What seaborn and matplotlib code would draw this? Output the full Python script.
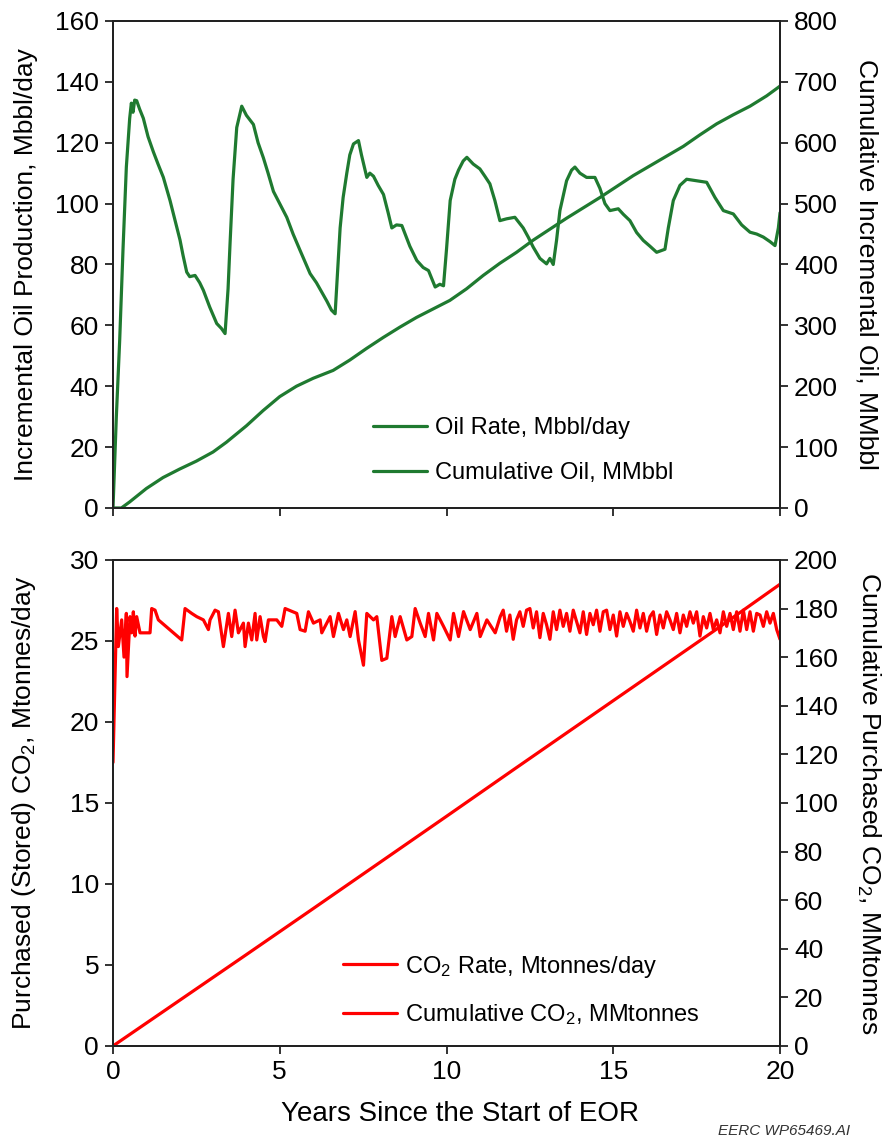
import numpy as np
import pandas as pd
import seaborn as sns
import matplotlib.pyplot as plt

# ---- data ----
oil_years = [0.0, 0.1, 0.2, 0.3, 0.4, 0.5, 0.55, 0.6, 0.65, 0.71, 0.8, 0.91, 1.05, 1.21, 1.35, 1.51,
             1.71, 1.85, 2.01, 2.1, 2.21, 2.3, 2.46, 2.6, 2.71, 2.9, 3.11, 3.25, 3.36, 3.45, 3.51, 3.6,
             3.71, 3.86, 4.0, 4.21, 4.35, 4.51, 4.65, 4.81, 5.0, 5.21, 5.4, 5.61, 5.91, 6.1, 6.41, 6.55,
             6.66, 6.72, 6.81, 6.9, 7.01, 7.1, 7.21, 7.36, 7.45, 7.61, 7.7, 7.81, 7.95, 8.11, 8.25, 8.36,
             8.5, 8.66, 8.9, 9.11, 9.3, 9.46, 9.66, 9.8, 9.91, 10.0, 10.11, 10.25, 10.36, 10.5, 10.61,
             10.8, 11.0, 11.15, 11.3, 11.45, 11.6, 11.8, 12.05, 12.3, 12.45, 12.6, 12.8, 13.0, 13.1,
             13.2, 13.3, 13.4, 13.6, 13.75, 13.85, 14.0, 14.2, 14.45, 14.6, 14.75, 14.9, 15.15, 15.3,
             15.5, 15.7, 15.9, 16.1, 16.3, 16.55, 16.65, 16.8, 17.0, 17.2, 17.5, 17.8, 18.05, 18.3,
             18.6, 18.85, 19.1, 19.3, 19.5, 19.7, 19.85, 19.95, 20.0]
oil_rate = [0, 30, 55, 85, 112, 128, 133, 130, 134, 133.8, 131, 128, 122, 117, 113, 108.6,
            101, 95, 88, 83, 77.5, 76, 76.4, 74, 71.5, 66, 60.6, 59, 57.3, 72, 87, 108,
            125, 132, 129, 126, 120, 115, 110, 104, 100, 95.5, 90, 84.6, 77, 74, 68, 65,
            63.8, 75, 92, 102, 110, 116, 119.6, 120.7, 116, 108.6, 110, 109, 106, 103, 97, 92,
            93, 92.8, 86, 81.3, 79, 78, 72.6, 73.5, 73, 85, 101, 108, 111, 114, 115.2,
            113, 111.4, 109, 106.5, 101, 94.4, 95, 95.5, 92, 89, 85.7, 82, 80.2, 82,
            80, 88, 97.7, 107.5, 111, 112, 110, 108.6, 108.6, 105, 100, 97.7, 98.3, 96.5,
            94.4, 90.5, 87.9, 86, 84, 85, 92, 101, 106, 108, 107.5, 107, 102, 97.7,
            96.6, 93, 90.6, 90, 89, 87.5, 86.2, 92, 97]

cum_oil_years = [0.0, 0.25, 0.5, 1.0, 1.5, 2.0, 2.5, 3.0, 3.4, 4.0, 4.5, 5.0, 5.5, 6.0, 6.6, 7.1,
                 7.6, 8.1, 8.6, 9.1, 9.6, 10.1, 10.6, 11.1, 11.6, 12.1, 12.6, 13.1, 13.6, 14.1,
                 14.6, 15.1, 15.6, 16.1, 16.6, 17.1, 17.6, 18.1, 18.6, 19.1, 19.6, 20.0]
cum_oil = [0, 0, 10, 32, 50, 64, 77, 92, 108, 135, 160, 183, 200, 213, 226, 243,
           262, 280, 297, 313, 327, 341, 360, 382, 402, 420, 440, 458, 476, 493,
           510, 528, 546, 562, 578, 594, 613, 631, 646, 660, 677, 693]

co2_years = [0.0, 0.11, 0.16, 0.26, 0.33, 0.40, 0.42, 0.51, 0.56, 0.61, 0.66, 0.71, 0.81, 1.11,
             1.16, 1.26, 1.36, 2.06, 2.16, 2.36, 2.51, 2.71, 2.86, 2.91, 3.06, 3.16, 3.31, 3.46,
             3.56, 3.66, 3.76, 3.91, 3.96, 4.06, 4.16, 4.26, 4.31, 4.41, 4.51, 4.56, 4.66, 4.91,
             5.06, 5.16, 5.51, 5.61, 5.76, 5.86, 6.01, 6.21, 6.26, 6.51, 6.61, 6.76, 6.91, 7.01,
             7.11, 7.26, 7.36, 7.51, 7.61, 7.81, 7.91, 8.06, 8.21, 8.36, 8.46, 8.61, 8.81, 8.96,
             9.06, 9.21, 9.36, 9.46, 9.61, 9.71, 9.91, 10.11, 10.21, 10.36, 10.51, 10.71, 10.91,
             11.01, 11.21, 11.46, 11.61,
             11.7, 11.8, 11.9, 12.0, 12.1, 12.2, 12.3, 12.4, 12.5, 12.6, 12.7, 12.8, 12.9, 13.0,
             13.1, 13.2, 13.3, 13.4, 13.5, 13.6, 13.7, 13.8, 13.9, 14.0, 14.1, 14.2, 14.3, 14.4,
             14.5, 14.6, 14.7, 14.8, 14.9, 15.0, 15.1, 15.2, 15.3, 15.4, 15.5, 15.6, 15.7, 15.8,
             15.9, 16.0, 16.1, 16.2, 16.3, 16.4, 16.5, 16.6, 16.7, 16.8, 16.9, 17.0, 17.1, 17.2,
             17.3, 17.4, 17.5, 17.6, 17.7, 17.8, 17.9, 18.0, 18.1, 18.2, 18.3, 18.4, 18.5, 18.6,
             18.7, 18.8, 18.9, 19.0, 19.1, 19.2, 19.3, 19.4, 19.5, 19.6, 19.7, 19.8, 19.9, 20.0]
co2_rate = [17.5, 27.0, 24.65, 26.3, 24.0, 26.7, 22.8, 26.5, 25.5, 26.8, 25.3, 26.5, 25.5, 25.5,
            27.0, 26.9, 26.3, 25.06, 27.0, 26.7, 26.5, 26.3, 25.7, 26.3, 26.9, 26.8, 24.65, 26.7,
            25.27, 26.9, 25.5, 26.1, 24.65, 26.1, 25.06, 26.7, 25.06, 26.5, 25.27, 24.96, 26.3, 26.3,
            25.9, 27.0, 26.7, 25.7, 25.6, 26.8, 26.1, 26.3, 25.5, 26.5, 25.27, 26.7, 25.7, 26.3,
            25.27, 26.81, 25.06, 23.5, 26.7, 26.3, 26.5, 23.8, 23.93, 26.5, 25.27, 26.5, 25.06, 25.27,
            27.0, 26.1, 25.27, 26.7, 25.06, 26.7, 25.9, 25.06, 26.7, 25.27, 26.81, 25.7, 26.7,
            25.27, 26.3, 25.5, 26.5,
            26.9, 25.6, 26.6, 25.1, 26.3, 26.8, 25.9, 26.9, 27.0, 25.8, 26.8, 25.2, 26.7, 26.0,
            25.1, 26.8, 25.7, 26.9, 25.9, 26.7, 25.6, 26.9, 26.2, 25.5, 26.8, 25.4, 26.7, 26.0,
            26.9, 25.6, 26.8, 26.9, 25.7, 26.6, 25.3, 26.8, 25.9, 26.7, 26.2, 25.6, 26.9, 25.8,
            26.7, 25.6, 26.5, 26.8, 25.4, 26.6, 25.8, 26.8, 26.3, 25.7, 26.7, 25.5, 26.6, 25.9,
            26.8, 26.1, 26.8, 25.3, 26.5, 25.8, 26.7, 25.7, 26.3, 25.5, 26.8, 25.9, 26.7, 25.7,
            26.8, 25.6, 26.9, 25.7, 26.8, 25.6, 26.7, 26.6, 25.9, 26.8, 26.1, 26.7, 25.7, 25.1]

cum_co2_years = [0, 2, 4, 6, 8, 10, 12, 14, 16, 18, 20]
cum_co2 = [0, 18.8, 37.6, 56.5, 75.5, 94.5, 113.6, 132.6, 151.6, 170.6, 190.0]

oil_df = pd.DataFrame({"years": oil_years, "rate": oil_rate})
cum_oil_df = pd.DataFrame({"years": cum_oil_years, "cum": cum_oil})
co2_df = pd.DataFrame({"years": co2_years, "rate": co2_rate})
cum_co2_df = pd.DataFrame({"years": cum_co2_years, "cum": cum_co2})

# ---- style ----
sns.set_theme(style="ticks")
narrow = ["Liberation Sans Narrow", "Liberation Sans", "DejaVu Sans"]
plt.rcParams["font.family"] = ["Liberation Sans", "DejaVu Sans"]
plt.rcParams["mathtext.default"] = "regular"
plt.rcParams["text.color"] = "black"
plt.rcParams["axes.labelcolor"] = "black"

green = "#1f7a30"
red = "#ff0000"
lw = 2.3
tick_fs = 19
label_fs = 19

fig = plt.figure(figsize=(8.87, 11.39), dpi=100)
ax_top = fig.add_axes([0.1274, 0.554, 0.752, 0.4276])
ax_bot = fig.add_axes([0.1274, 0.0817, 0.752, 0.4267])
ax_top2 = ax_top.twinx()
ax_bot2 = ax_bot.twinx()

sns.lineplot(data=oil_df, x="years", y="rate", ax=ax_top, color=green, lw=lw,
             estimator=None, sort=False, label="Oil Rate, Mbbl/day", legend=False)
sns.lineplot(data=cum_oil_df, x="years", y="cum", ax=ax_top2, color=green, lw=lw,
             estimator=None, sort=False, label="Cumulative Oil, MMbbl", legend=False)
sns.lineplot(data=co2_df, x="years", y="rate", ax=ax_bot, color=red, lw=lw,
             estimator=None, sort=False, label="CO$_2$ Rate, Mtonnes/day", legend=False)
sns.lineplot(data=cum_co2_df, x="years", y="cum", ax=ax_bot2, color=red, lw=lw,
             estimator=None, sort=False, label="Cumulative CO$_2$, MMtonnes", legend=False)


def style_pair(ax, ax2, ylim, y2lim, ystep, y2step, show_x):
    ax.set_xlim(0, 20)
    ax.set_ylim(*ylim)
    ax2.set_ylim(*y2lim)
    ax.set_xticks(np.arange(0, 21, 5))
    ax.set_yticks(np.arange(ylim[0], ylim[1] + 0.1, ystep))
    ax2.set_yticks(np.arange(y2lim[0], y2lim[1] + 0.1, y2step))
    for a in (ax, ax2):
        for s in a.spines.values():
            s.set_visible(True)
            s.set_linewidth(1.4)
            s.set_color("#222222")
        a.set_xlabel("")
    ax.tick_params(axis="both", direction="out", length=6, width=1.3, colors="#222222",
                   labelsize=tick_fs, labelcolor="black", right=False, top=False,
                   labelbottom=show_x, pad=4)
    ax2.tick_params(axis="y", direction="out", length=6, width=1.3, colors="#222222",
                    labelsize=tick_fs, labelcolor="black", pad=4)
    for lab in ax.get_xticklabels() + ax.get_yticklabels() + ax2.get_yticklabels():
        lab.set_family(narrow)


style_pair(ax_top, ax_top2, (0, 160), (0, 800), 20, 100, False)
style_pair(ax_bot, ax_bot2, (0, 30), (0, 200), 5, 20, True)

ax_top.set_ylabel("Incremental Oil Production, Mbbl/day", fontsize=label_fs, family=narrow)
ax_top2.set_ylabel("Cumulative Incremental Oil, MMbbl", fontsize=label_fs, family=narrow,
                   rotation=270, va="bottom")
ax_bot.set_ylabel("Purchased (Stored) CO$_2$, Mtonnes/day", fontsize=label_fs, family=narrow)
ax_bot2.set_ylabel("Cumulative Purchased CO$_2$, MMtonnes", fontsize=label_fs, family=narrow,
                   rotation=270, va="bottom")
ax_top.yaxis.set_label_coords(-0.112, 0.5)
ax_bot.yaxis.set_label_coords(-0.112, 0.5)
ax_top2.yaxis.set_label_coords(1.112, 0.5)
ax_bot2.yaxis.set_label_coords(1.112, 0.5)

ax_bot.set_xlabel("Years Since the Start of EOR", fontsize=label_fs + 1, family=narrow)
ax_bot.xaxis.set_label_coords(0.52, -0.113)

# legends
h1, l1 = ax_top.get_legend_handles_labels()
h2, l2 = ax_top2.get_legend_handles_labels()
ax_top2.legend(h1 + h2, l1 + l2, loc="upper left", bbox_to_anchor=(0.39, 0.186),
               frameon=False, fontsize=17, handlelength=2.3, handletextpad=0.3,
               labelspacing=0.95, borderaxespad=0, borderpad=0)
h1, l1 = ax_bot.get_legend_handles_labels()
h2, l2 = ax_bot2.get_legend_handles_labels()
ax_bot2.legend(h1 + h2, l1 + l2, loc="upper left", bbox_to_anchor=(0.345, 0.19),
               frameon=False, fontsize=17, handlelength=2.3, handletextpad=0.3,
               labelspacing=0.95, borderaxespad=0, borderpad=0)

fig.text(0.81, 0.001, "EERC WP65469.AI", fontsize=11, style="italic", color="#333333",
         ha="left", va="bottom")

fig.savefig("out.png", dpi=100)
